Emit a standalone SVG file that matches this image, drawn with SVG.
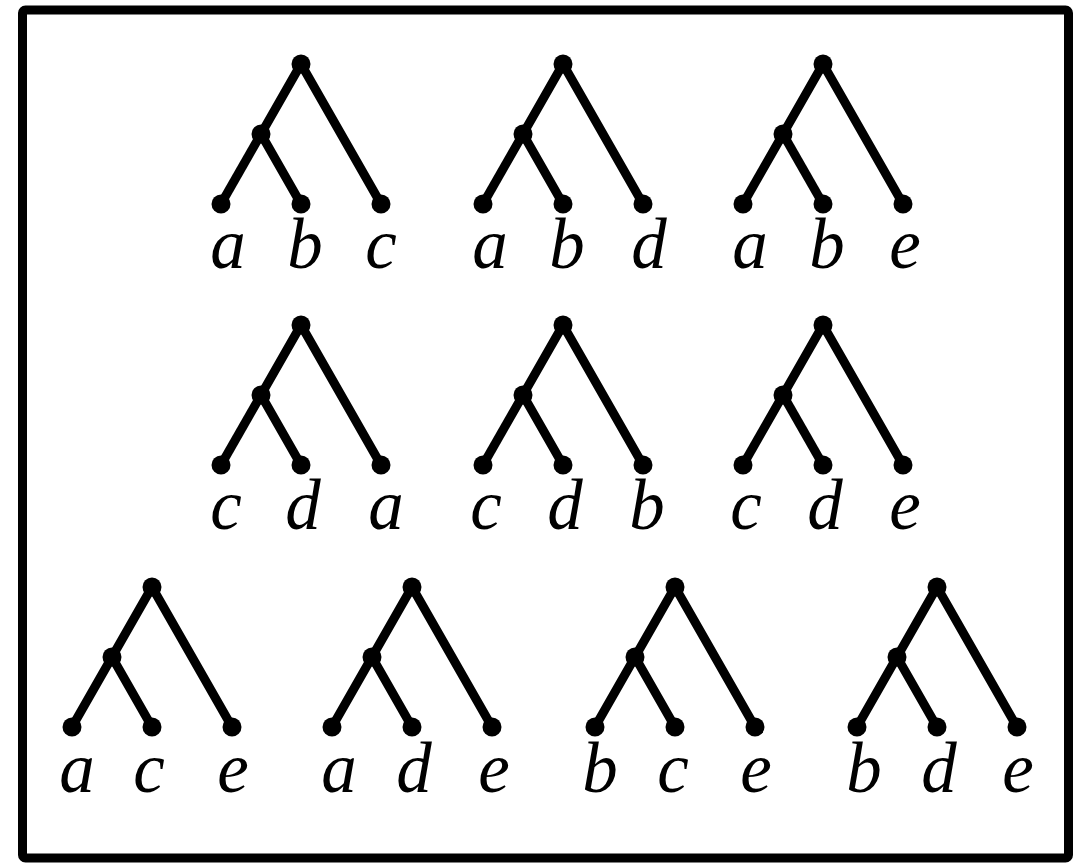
<svg xmlns="http://www.w3.org/2000/svg" width="1079" height="867" viewBox="0 0 1079 867">
<defs>
<style>
.frame{fill:#fff;stroke:#000;stroke-width:9}
.e{stroke:#000;stroke-width:9;fill:none;stroke-linecap:round}
.d{fill:#000}
.t{font-family:"Liberation Serif","DejaVu Serif",serif;font-style:italic;font-size:71px;fill:#000;text-anchor:middle}
</style>
<g id="tree">
<line class="e" x1="0" y1="0" x2="-80" y2="140"/>
<line class="e" x1="0" y1="0" x2="80" y2="140"/>
<line class="e" x1="-40" y1="70" x2="0" y2="140"/>
<circle class="d" cx="0" cy="0" r="9.5"/>
<circle class="d" cx="-40" cy="70" r="9.5"/>
<circle class="d" cx="-80" cy="140" r="9.5"/>
<circle class="d" cx="0" cy="140" r="9.5"/>
<circle class="d" cx="80" cy="140" r="9.5"/>
</g>
</defs>
<rect class="frame" x="22.5" y="10" width="1046" height="848" rx="3"/>
<g id="connectors">
<use href="#tree" x="301" y="64"/>
<use href="#tree" x="563" y="64"/>
<use href="#tree" x="823" y="64"/>
<use href="#tree" x="301" y="325"/>
<use href="#tree" x="563" y="325"/>
<use href="#tree" x="823" y="325"/>
<use href="#tree" x="152" y="587"/>
<use href="#tree" x="412" y="587"/>
<use href="#tree" x="675" y="587"/>
<use href="#tree" x="937" y="587"/>
</g>
<g id="t1" class="t"><text x="228" y="268">a</text><text x="305" y="268">b</text><text x="381" y="268">c</text></g>
<g id="t2" class="t"><text x="490" y="268">a</text><text x="567" y="268">b</text><text x="649" y="268">d</text></g>
<g id="t3" class="t"><text x="750" y="268">a</text><text x="827" y="268">b</text><text x="905" y="268">e</text></g>
<g id="t4" class="t"><text x="226" y="529">c</text><text x="303" y="529">d</text><text x="386" y="529">a</text></g>
<g id="t5" class="t"><text x="486" y="529">c</text><text x="565" y="529">d</text><text x="647" y="529">b</text></g>
<g id="t6" class="t"><text x="746" y="529">c</text><text x="825" y="529">d</text><text x="905" y="529">e</text></g>
<g id="t7" class="t"><text x="77" y="792">a</text><text x="149" y="792">c</text><text x="233" y="792">e</text></g>
<g id="t8" class="t"><text x="339" y="792">a</text><text x="414" y="792">d</text><text x="494" y="792">e</text></g>
<g id="t9" class="t"><text x="600" y="792">b</text><text x="673" y="792">c</text><text x="756" y="792">e</text></g>
<g id="t10" class="t"><text x="864" y="792">b</text><text x="939" y="792">d</text><text x="1018" y="792">e</text></g>
</svg>
